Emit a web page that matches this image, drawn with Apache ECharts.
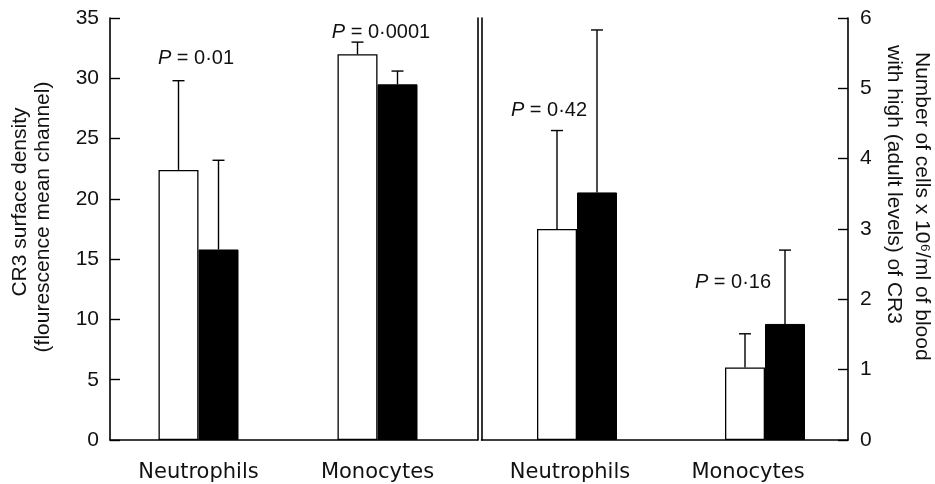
<!DOCTYPE html>
<html>
<head>
<meta charset="utf-8">
<script src="https://cdn.jsdelivr.net/npm/echarts@6/dist/echarts.min.js"></script>
<style>
html,body{margin:0;padding:0;background:#fff;}
#chart{width:935px;height:484px;}
</style>
</head>
<body>
<div id="chart"></div>
<script>
// ---- data ----
const categories = ['Neutrophils', 'Monocytes'];
// left panel: CR3 surface density
const leftWhite = [22.4, 32.0];
const leftWhiteErr = [7.4, 1.0];
const leftBlack = [15.8, 29.5];
const leftBlackErr = [7.4, 1.1];
// right panel: number of cells x 10^6/ml
const rightWhite = [3.0, 1.03];
const rightWhiteErr = [1.4, 0.48];
const rightBlack = [3.52, 1.65];
const rightBlackErr = [2.31, 1.05];
// axes
const leftAxisMax = 35, leftAxisStep = 5;
const rightAxisMax = 6, rightAxisStep = 1;
// annotations
const pTexts = ['= 0·01', '= 0·0001', '= 0·42', '= 0·16'];
const leftTitle = ['CR3 surface density', '(flourescence mean channel)'];
const rightTitle = ['Number of cells x 10⁶/ml of blood', 'with high (adult levels) of CR3'];

const FONT = '"Liberation Sans", Arial, Helvetica, sans-serif';
const CATFONT = '"DejaVu Sans", sans-serif';

function errData(mean, err) {
  return mean.map((m, i) => [i, m, m + err[i]]);
}
function errRender(offset) {
  return function (params, api) {
    const i = api.value(0);
    const lo = api.coord([i, api.value(1)]);
    const hi = api.coord([i, api.value(2)]);
    const x = lo[0] + offset;
    return {
      type: 'group',
      children: [
        { type: 'line', shape: { x1: x, y1: lo[1], x2: x, y2: hi[1] }, style: { stroke: '#000', lineWidth: 1.4 } },
        { type: 'line', shape: { x1: x - 6, y1: hi[1], x2: x + 6, y2: hi[1] }, style: { stroke: '#000', lineWidth: 1.4 } }
      ]
    };
  };
}

const TOP = 18, HEIGHT = 422;
const lineStyle = { color: '#000', width: 1.6 };

const chart = echarts.init(document.getElementById('chart'), null, { renderer: 'canvas' });

const option = {
  backgroundColor: '#fff',
  animation: false,
  grid: [
    { left: 110, width: 367.5, top: TOP, height: HEIGHT }, // 0 left frame
    { left: 109, width: 358, top: TOP, height: HEIGHT },   // 1 left data
    { left: 481.5, width: 366.5, top: TOP, height: HEIGHT }, // 2 right frame
    { left: 483, width: 376, top: TOP, height: HEIGHT },   // 3 right data
    { left: 481, width: 356, top: TOP, height: HEIGHT }    // 4 right labels
  ],
  xAxis: [
    { gridIndex: 0, type: 'category', data: categories, axisLine: { lineStyle }, axisTick: { show: false }, axisLabel: { show: false } },
    { gridIndex: 1, type: 'category', data: categories, axisLine: { show: false }, axisTick: { show: false },
      axisLabel: { margin: 22, fontFamily: CATFONT, fontSize: 21, color: '#111' } },
    { gridIndex: 2, type: 'category', data: categories, axisLine: { lineStyle }, axisTick: { show: false }, axisLabel: { show: false } },
    { gridIndex: 3, type: 'category', data: categories, axisLine: { show: false }, axisTick: { show: false }, axisLabel: { show: false } },
    { gridIndex: 4, type: 'category', data: categories, axisLine: { show: false }, axisTick: { show: false },
      axisLabel: { margin: 22, fontFamily: CATFONT, fontSize: 21, color: '#111' } }
  ],
  yAxis: [
    { gridIndex: 0, type: 'value', min: 0, max: leftAxisMax, interval: leftAxisStep, position: 'left',
      axisLine: { show: true, lineStyle }, axisTick: { show: true, inside: true, length: 10, lineStyle: { color: '#000', width: 1.4 } },
      axisLabel: { margin: 11, fontFamily: FONT, fontSize: 21, color: '#111' }, splitLine: { show: false } },
    { gridIndex: 0, type: 'value', min: 0, max: leftAxisMax, position: 'right',
      axisLine: { show: true, lineStyle }, axisTick: { show: false }, axisLabel: { show: false }, splitLine: { show: false } },
    { gridIndex: 1, type: 'value', min: 0, max: leftAxisMax, show: false },
    { gridIndex: 2, type: 'value', min: 0, max: rightAxisMax, interval: rightAxisStep, position: 'right',
      axisLine: { show: true, lineStyle }, axisTick: { show: true, inside: true, length: 10, lineStyle: { color: '#000', width: 1.4 } },
      axisLabel: { margin: 12, fontFamily: FONT, fontSize: 21, color: '#111' }, splitLine: { show: false } },
    { gridIndex: 2, type: 'value', min: 0, max: rightAxisMax, position: 'left',
      axisLine: { show: true, lineStyle }, axisTick: { show: false }, axisLabel: { show: false }, splitLine: { show: false } },
    { gridIndex: 3, type: 'value', min: 0, max: rightAxisMax, show: false },
    { gridIndex: 4, type: 'value', min: 0, max: rightAxisMax, show: false }
  ],
  series: [
    { type: 'bar', xAxisIndex: 1, yAxisIndex: 2, data: leftWhite, barWidth: 40, barGap: '0%',
      itemStyle: { color: '#fff', borderColor: '#000', borderWidth: 1.3 } },
    { type: 'bar', xAxisIndex: 1, yAxisIndex: 2, data: leftBlack, barWidth: 40, barGap: '0%',
      itemStyle: { color: '#000', borderColor: '#000', borderWidth: 1 } },
    { type: 'custom', xAxisIndex: 1, yAxisIndex: 2, data: errData(leftWhite, leftWhiteErr), renderItem: errRender(-20), z: 5 },
    { type: 'custom', xAxisIndex: 1, yAxisIndex: 2, data: errData(leftBlack, leftBlackErr), renderItem: errRender(20), z: 5 },
    { type: 'bar', xAxisIndex: 3, yAxisIndex: 5, data: rightWhite, barWidth: 40, barGap: '0%',
      itemStyle: { color: '#fff', borderColor: '#000', borderWidth: 1.3 } },
    { type: 'bar', xAxisIndex: 3, yAxisIndex: 5, data: rightBlack, barWidth: 40, barGap: '0%',
      itemStyle: { color: '#000', borderColor: '#000', borderWidth: 1 } },
    { type: 'custom', xAxisIndex: 3, yAxisIndex: 5, data: errData(rightWhite, rightWhiteErr), renderItem: errRender(-20), z: 5 },
    { type: 'custom', xAxisIndex: 3, yAxisIndex: 5, data: errData(rightBlack, rightBlackErr), renderItem: errRender(20), z: 5 }
  ]
};

function pText(txt, x, y) {
  return {
    type: 'text', x: x, y: y, z: 10,
    style: {
      text: '{i|P} ' + txt, align: 'center', verticalAlign: 'middle',
      rich: {
        i: { fontFamily: FONT, fontSize: 20, fontStyle: 'italic', fill: '#111' }
      },
      fontFamily: FONT, fontSize: 20, fill: '#111'
    }
  };
}
function rotText(txt, x, y, rot, align) {
  return {
    type: 'text', x: x, y: y, rotation: rot, z: 10,
    style: { text: txt, align: align, verticalAlign: 'middle', fontFamily: FONT, fontSize: 21, fill: '#111' }
  };
}

option.graphic = [
  pText(pTexts[0], 196, 58),
  pText(pTexts[1], 381, 32),
  pText(pTexts[2], 549, 110),
  pText(pTexts[3], 733, 282),
  rotText(leftTitle[0], 20, 202, Math.PI / 2, 'center'),
  rotText(leftTitle[1], 43.5, 217, Math.PI / 2, 'center'),
  rotText(rightTitle[0], 922, 52, -Math.PI / 2, 'left'),
  rotText(rightTitle[1], 894, 45, -Math.PI / 2, 'left')
];

chart.setOption(option);
</script>
</body>
</html>
